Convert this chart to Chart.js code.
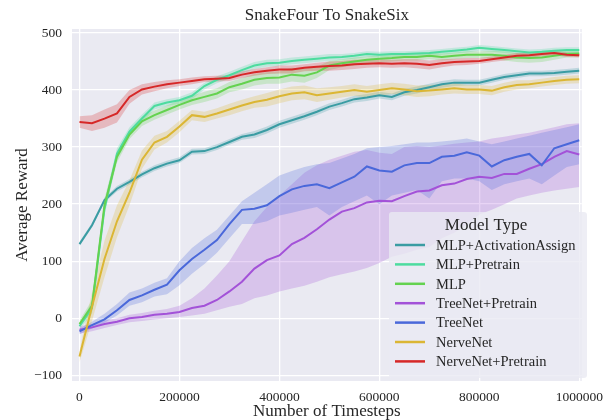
<!DOCTYPE html>
<html>
<head>
<meta charset="utf-8">
<script src="https://cdn.jsdelivr.net/npm/chart.js@4.4.1/dist/chart.umd.min.js"></script>
<style>
  html, body { margin: 0; padding: 0; background: #ffffff; }
  #wrap { width: 611px; height: 420px; }
</style>
</head>
<body>
<div id="wrap"><canvas id="myChart" width="611" height="420"></canvas></div>
<script>
// timesteps (x) every 25000
const steps = [0, 25000, 50000, 75000, 100000, 125000, 150000, 175000, 200000, 225000,
  250000, 275000, 300000, 325000, 350000, 375000, 400000, 425000, 450000, 475000,
  500000, 525000, 550000, 575000, 600000, 625000, 650000, 675000, 700000, 725000,
  750000, 775000, 800000, 825000, 850000, 875000, 900000, 925000, 950000, 975000, 1000000];

const xTicks = [0, 200000, 400000, 600000, 800000, 1000000];
const yTicks = [-100, 0, 100, 200, 300, 400, 500];

// mean reward per model
const mlpActAssign = [130, 163, 207, 227, 239, 252, 263, 271, 277, 292, 293, 300, 309, 318, 322, 330, 340, 347, 354, 362,
  371, 377, 384, 387, 391, 388, 396, 400, 405, 410, 413, 413, 413, 418, 423, 426, 429, 429, 430, 432, 434];
const mlpPretrain = [-14, 18, 192, 288, 327, 350, 372, 378, 382, 390, 407, 418, 426, 435, 443, 447, 448, 451, 453, 455,
  457, 458, 460, 463, 462, 463, 463, 464, 465, 467, 469, 471, 474, 472, 470, 468, 466, 467, 469, 470, 470];
const mlp = [-10, 22, 198, 283, 322, 345, 356, 365, 374, 382, 388, 394, 405, 411, 418, 421, 422, 427, 425, 431,
  443, 447, 450, 453, 455, 456, 458, 458, 460, 458, 460, 462, 462, 462, 460, 457, 456, 457, 460, 463, 464];
const treeNetPretrain = [-20, -16, -10, -6, 0, 2, 6, 8, 11, 18, 22, 32, 47, 64, 87, 102, 110, 130, 141, 156,
  173, 187, 193, 203, 206, 205, 214, 222, 224, 233, 236, 244, 248, 246, 253, 253, 262, 270, 283, 293, 287];
const treeNet = [-23, -12, -2, 14, 32, 40, 50, 59, 84, 104, 120, 137, 165, 190, 192, 198, 214, 226, 232, 235,
  228, 238, 248, 266, 259, 257, 268, 272, 272, 283, 285, 291, 285, 266, 277, 283, 288, 268, 298, 305, 312];
const nerveNet = [-67, 20, 104, 170, 220, 278, 308, 318, 336, 356, 353, 359, 366, 373, 379, 383, 389, 394, 396, 391,
  394, 397, 400, 397, 400, 403, 401, 398, 399, 401, 403, 401, 401, 399, 405, 409, 410, 413, 416, 418, 419];
const nerveNetPretrain = [344, 342, 350, 359, 388, 401, 406, 410, 413, 416, 419, 420, 421, 427, 431, 434, 436, 436, 439, 441,
  442, 443, 445, 446, 447, 446, 447, 446, 444, 447, 449, 450, 451, 454, 457, 460, 461, 463, 465, 462, 461];

// half width of the shaded band
const mlpActAssignSpread = [4, 4, 4, 5, 5, 5, 5, 5, 5, 5, 5, 5, 5, 5, 6, 6, 6, 6, 6, 6,
  6, 6, 6, 6, 6, 6, 6, 6, 6, 6, 6, 5, 5, 5, 5, 5, 5, 5, 5, 5, 5];
const mlpPretrainSpread = [6, 10, 12, 10, 8, 7, 6, 6, 6, 6, 6, 6, 6, 6, 6, 6, 6, 6, 6, 6,
  6, 5, 5, 5, 5, 5, 5, 5, 5, 5, 5, 5, 5, 5, 5, 5, 5, 5, 5, 5, 5];
const mlpSpread = [6, 10, 12, 10, 8, 8, 8, 8, 8, 8, 9, 9, 9, 10, 10, 10, 11, 12, 12, 10,
  8, 7, 7, 6, 6, 6, 6, 6, 6, 6, 6, 6, 6, 7, 8, 8, 8, 8, 7, 6, 6];
const nerveNetSpread = [10, 25, 32, 28, 22, 16, 12, 10, 10, 9, 9, 9, 10, 10, 10, 12, 12, 12, 12, 12,
  11, 10, 10, 10, 10, 10, 10, 10, 10, 9, 9, 8, 8, 8, 8, 8, 7, 7, 7, 7, 7];
const nerveNetPretrainSpread = [10, 14, 16, 16, 12, 9, 8, 7, 6, 6, 5, 5, 5, 6, 6, 6, 7, 7, 6, 7,
  8, 8, 8, 7, 7, 7, 7, 8, 8, 7, 6, 6, 5, 5, 5, 5, 4, 4, 4, 4, 4];

// TreeNet bands are lopsided, so upper and lower edges are read separately
const treeNetPretrainHi = [-14, -10, -4, 0, 6, 9, 13, 16, 22, 35, 52, 75, 100, 135, 170, 195, 215, 235, 255, 268,
  278, 285, 292, 295, 290, 288, 300, 302, 300, 303, 306, 308, 310, 315, 318, 322, 325, 330, 335, 340, 342];
const treeNetPretrainLo = [-27, -23, -17, -12, -7, -5, -2, 0, 2, 5, 8, 14, 20, 25, 35, 40, 47, 52, 57, 64,
  72, 77, 82, 88, 97, 108, 113, 120, 125, 140, 150, 165, 182, 190, 200, 210, 215, 220, 224, 227, 230];
const treeNetHi = [-18, -6, 8, 25, 45, 52, 62, 70, 100, 123, 140, 155, 180, 205, 220, 235, 250, 258, 265, 270,
  272, 280, 288, 298, 300, 302, 305, 308, 308, 310, 312, 315, 310, 305, 310, 315, 320, 325, 330, 335, 340];
const treeNetLo = [-28, -18, -8, 5, 22, 28, 38, 42, 58, 78, 95, 115, 140, 165, 165, 170, 180, 185, 190, 195,
  180, 195, 205, 215, 200, 215, 220, 225, 210, 240, 245, 245, 240, 225, 235, 240, 245, 235, 250, 265, 270];

const SERIF = "'Liberation Serif', 'DejaVu Serif', serif";
const TEXT = "#262626";

const datasets = [];
const legendItems = [];

function addSeries(label, color, mean, lo, hi, order) {
  const toPts = (arr) => arr.map((v, i) => ({ x: steps[i], y: v }));
  datasets.push({
    label: label + " lo", data: toPts(lo), borderWidth: 0, pointRadius: 0,
    fill: false, order: 20 + order
  });
  datasets.push({
    label: label + " hi", data: toPts(hi), borderWidth: 0, pointRadius: 0,
    fill: "-1", backgroundColor: color + "40", order: 20 + order
  });
  datasets.push({
    label: label, data: toPts(mean), borderColor: color, borderWidth: 2,
    pointRadius: 0, tension: 0, fill: false, order: order
  });
  legendItems.push({ label: label, color: color });
}

function band(mean, spread, sign) {
  return mean.map((v, i) => v + sign * spread[i]);
}

addSeries("MLP+ActivationAssign", "#3a9ca3", mlpActAssign,
  band(mlpActAssign, mlpActAssignSpread, -1), band(mlpActAssign, mlpActAssignSpread, 1), 6);
addSeries("MLP+Pretrain", "#4ddc9f", mlpPretrain,
  band(mlpPretrain, mlpPretrainSpread, -1), band(mlpPretrain, mlpPretrainSpread, 1), 5);
addSeries("MLP", "#64d24f", mlp,
  band(mlp, mlpSpread, -1), band(mlp, mlpSpread, 1), 4);
addSeries("TreeNet+Pretrain", "#a352d8", treeNetPretrain, treeNetPretrainLo, treeNetPretrainHi, 3);
addSeries("TreeNet", "#4a68da", treeNet, treeNetLo, treeNetHi, 2);
addSeries("NerveNet", "#dbb634", nerveNet,
  band(nerveNet, nerveNetSpread, -1), band(nerveNet, nerveNetSpread, 1), 1);
addSeries("NerveNet+Pretrain", "#d62828", nerveNetPretrain,
  band(nerveNetPretrain, nerveNetPretrainSpread, -1), band(nerveNetPretrain, nerveNetPretrainSpread, 1), 0);

const decor = {
  id: "decor",
  beforeDraw(chart) {
    const { ctx, chartArea: a } = chart;
    ctx.save();
    ctx.fillStyle = "#eaeaf2";
    ctx.fillRect(a.left, a.top, a.right - a.left, a.bottom - a.top);
    ctx.restore();
  },
  afterDraw(chart) {
    const { ctx, chartArea: a } = chart;
    ctx.save();
    // title
    ctx.fillStyle = TEXT;
    ctx.font = "17px " + SERIF;
    ctx.textAlign = "center";
    ctx.textBaseline = "middle";
    ctx.fillText("SnakeFour To SnakeSix", (a.left + a.right) / 2, 16);

    // legend box
    ctx.fillStyle = "rgba(234,234,242,0.8)";
    ctx.beginPath();
    ctx.roundRect(389, 212, 198, 166, 3);
    ctx.fill();

    ctx.fillStyle = TEXT;
    ctx.font = "17px " + SERIF;
    ctx.fillText("Model Type", 486, 226);

    ctx.font = "14.5px " + SERIF;
    ctx.textAlign = "left";
    legendItems.forEach((item, i) => {
      const y = 245 + i * 19.4;
      ctx.strokeStyle = item.color;
      ctx.lineWidth = 2.5;
      ctx.beginPath();
      ctx.moveTo(395, y);
      ctx.lineTo(425, y);
      ctx.stroke();
      ctx.fillStyle = TEXT;
      ctx.fillText(item.label, 436, y + 1);
    });
    ctx.restore();
  }
};

new Chart(document.getElementById("myChart"), {
  type: "line",
  data: { datasets: datasets },
  options: {
    responsive: false,
    animation: false,
    layout: { padding: { top: 29, right: 22, left: 0, bottom: 0 } },
    plugins: {
      legend: { display: false },
      tooltip: { enabled: false },
      title: { display: false }
    },
    scales: {
      x: {
        type: "linear",
        min: -15000,
        max: 1005000,
        afterFit: (s) => { s.height = 39; },
        afterBuildTicks: (s) => { s.ticks = xTicks.map((v) => ({ value: v })); },
        grid: { color: "#ffffff", lineWidth: 1.3, drawTicks: false },
        border: { display: false },
        ticks: {
          padding: 8,
          color: TEXT,
          font: { family: SERIF, size: 13.5 },
          maxRotation: 0,
          callback: (v) => String(v)
        },
        title: {
          display: true,
          text: "Number of Timesteps",
          color: TEXT,
          font: { family: SERIF, size: 17, lineHeight: 1 },
          padding: { top: 0, bottom: 0 }
        }
      },
      y: {
        min: -110,
        max: 507,
        afterFit: (s) => { s.width = 72; },
        afterBuildTicks: (s) => { s.ticks = yTicks.map((v) => ({ value: v })); },
        grid: { color: "#ffffff", lineWidth: 1.3, drawTicks: false },
        border: { display: false },
        ticks: {
          padding: 10,
          color: TEXT,
          font: { family: SERIF, size: 13.5 },
          callback: (v) => (v < 0 ? "\u2212" + Math.abs(v) : String(v))
        },
        title: {
          display: true,
          text: "Average Reward",
          color: TEXT,
          font: { family: SERIF, size: 17, lineHeight: 1 },
          padding: { top: 14, bottom: 0 }
        }
      }
    }
  },
  plugins: [decor]
});
</script>
</body>
</html>
